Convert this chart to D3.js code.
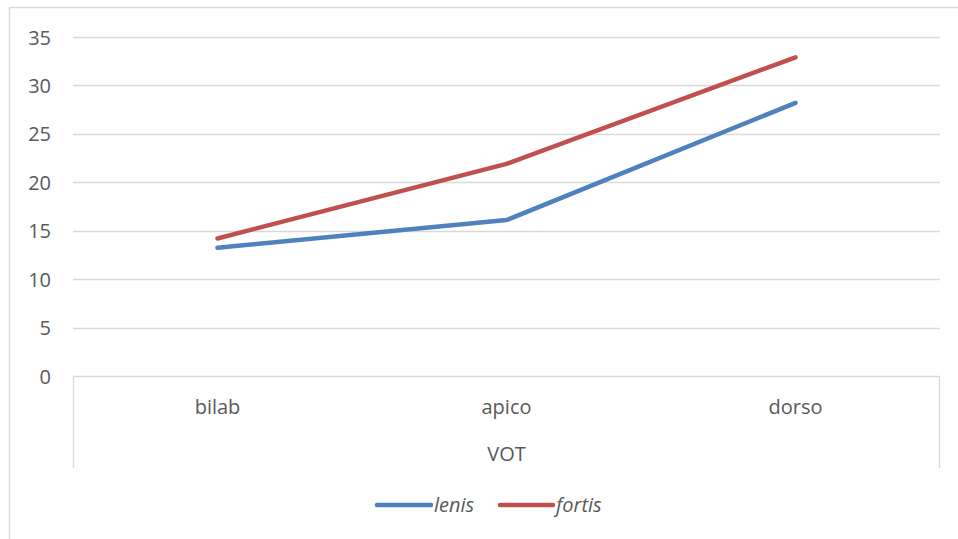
<!DOCTYPE html>
<html><head><meta charset="utf-8">
<script src="https://cdn.jsdelivr.net/npm/d3@7"></script>
<style>
html,body{margin:0;padding:0;background:#fff;}
svg text{font-family:"Open Sans",Lato,sans-serif;fill:#595959;}
</style></head>
<body>
<svg id="chart" width="958" height="539"></svg>
<script>
const categories = ["bilab", "apico", "dorso"];
const groupLabel = "VOT";
const lenis = [13.25, 16.1, 28.2];
const fortis = [14.2, 21.9, 32.9];
const yTicks = [0, 5, 10, 15, 20, 25, 30, 35];
const seriesNames = ["lenis", "fortis"];
const seriesColors = ["#4F81BD", "#C0504D"];

const svg = d3.select("#chart");
const L = 73, R = 940, T = 37, B = 376;
const FS = 20;

// outer chart border
svg.append("rect").attr("x", 9.5).attr("y", 7.5).attr("width", 970).attr("height", 560)
  .attr("fill", "none").attr("stroke", "#D9D9D9").attr("stroke-width", 1.5);

const x = d3.scaleBand().domain(categories).range([L, R]).padding(0);
const y = d3.scaleLinear().domain([0, 35]).range([B, T]);

// gridlines
svg.append("g").selectAll("line").data(yTicks.filter(d => d > 0)).join("line")
  .attr("x1", L).attr("x2", R).attr("y1", d => Math.round(y(d)) + 0.5).attr("y2", d => Math.round(y(d)) + 0.5)
  .attr("stroke", "#D9D9D9").attr("stroke-width", 1.3);

// y axis labels
const yAxis = d3.axisLeft(y).tickValues(yTicks).tickSize(0).tickPadding(0);
const gy = svg.append("g").attr("transform", `translate(${L - 22},0)`).call(yAxis);
gy.select(".domain").remove();
gy.selectAll("text").attr("font-size", FS).attr("font-family", "Open Sans").attr("fill", "#595959").attr("dy", "0.35em");

// category axis box
const axisG = svg.append("g");
axisG.append("line").attr("x1", L).attr("x2", R).attr("y1", B + 0.5).attr("y2", B + 0.5).attr("stroke", "#D9D9D9").attr("stroke-width", 1.3);
axisG.append("line").attr("x1", L + 0.5).attr("x2", L + 0.5).attr("y1", B).attr("y2", 468).attr("stroke", "#D9D9D9").attr("stroke-width", 1.3);
axisG.append("line").attr("x1", R - 0.5).attr("x2", R - 0.5).attr("y1", B).attr("y2", 468).attr("stroke", "#D9D9D9").attr("stroke-width", 1.3);

const xAxis = d3.axisBottom(x).tickSize(0).tickPadding(0);
const gx = svg.append("g").attr("transform", `translate(0,${B})`).call(xAxis);
gx.select(".domain").remove();
gx.selectAll("text").attr("font-size", FS).attr("font-family", "Open Sans").attr("fill", "#595959").attr("y", 31).attr("dy", "0.35em");

svg.append("text").attr("x", (L + R) / 2).attr("y", 454).attr("dy", "0.35em").attr("text-anchor", "middle")
  .attr("font-size", FS).text(groupLabel);

// lines
const line = d3.line().x((d, i) => x(categories[i]) + x.bandwidth() / 2).y(d => y(d));
[lenis, fortis].forEach((s, i) => {
  svg.append("path").datum(s).attr("d", line).attr("fill", "none")
    .attr("stroke", seriesColors[i]).attr("stroke-width", 4.5)
    .attr("stroke-linecap", "round").attr("stroke-linejoin", "round");
});

// legend
const legendItems = [{x1: 377, x2: 431, tx: 434}, {x1: 500, x2: 553, tx: 556}];
seriesNames.forEach((n, i) => {
  const it = legendItems[i];
  svg.append("line").attr("x1", it.x1).attr("x2", it.x2).attr("y1", 505).attr("y2", 505)
    .attr("stroke", seriesColors[i]).attr("stroke-width", 4.5).attr("stroke-linecap", "round");
  svg.append("text").attr("x", it.tx).attr("y", 505).attr("dy", "0.35em").attr("font-size", FS).attr("font-style", "italic").text(n);
});
</script>
</body></html>
